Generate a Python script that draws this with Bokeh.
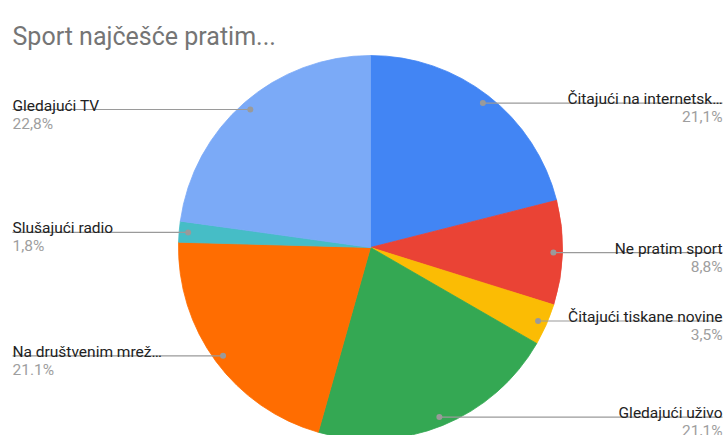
import math
from bokeh.plotting import figure
from bokeh.models import Range1d, ColumnDataSource
from bokeh.core.properties import value
from bokeh.embed import file_html
from bokeh.resources import INLINE

# ---- data ----
title_text = "Sport najčešće pratim..."
categories = ["Čitajući na internetsk…", "Ne pratim sport", "Čitajući tiskane novine",
              "Gledajući uživo", "Na društvenim mrež…", "Slušajući radio", "Gledajući TV"]
counts = [12, 5, 2, 12, 12, 1, 13]
pct_labels = ["21,1%", "8,8%", "3,5%", "21,1%", "21.1%", "1,8%", "22,8%"]
colors = ["#4285F4", "#EA4335", "#FBBC04", "#34A853", "#FF6D01", "#46BDC6", "#7BAAF7"]

# ---- layout (page pixel coordinates) ----
W, H = 728, 435
CX, CY, R = 370, 247, 192
RDOT = 0.953 * R
LEFT_X, RIGHT_X = 12, 722
FONT = value("Roboto")

p = figure(width=W, height=H, x_range=Range1d(0, W), y_range=Range1d(-H, 0),
           output_backend="svg", toolbar_location=None, min_border=0,
           x_axis_location=None, y_axis_location=None)
p.grid.visible = False
p.outline_line_color = None

total = float(sum(counts))
starts, ends, mids = [], [], []
c = 0.0
for v in counts:
    f0 = c / total
    c += v
    f1 = c / total
    starts.append(math.pi / 2 - 2 * math.pi * f0)
    ends.append(math.pi / 2 - 2 * math.pi * f1)
    mids.append(2 * math.pi * (f0 + f1) / 2)

src = ColumnDataSource(dict(x=[CX] * len(counts), y=[-CY] * len(counts),
                            start=starts, end=ends, color=colors))
p.wedge(x="x", y="y", radius=R, start_angle="start", end_angle="end",
        direction="clock", fill_color="color", line_color="color", line_width=0.8, source=src)

# label geometry
dot_x, dot_y, x0, x1, lx, ly, py, align, names, pcts = [], [], [], [], [], [], [], [], [], []
for name, pct, m in zip(categories, pct_labels, mids):
    dx = CX + RDOT * math.sin(m)
    dy = CY - RDOT * math.cos(m)
    dot_x.append(dx)
    dot_y.append(-dy)
    left = math.sin(m) < 0
    ex = LEFT_X if left else RIGHT_X
    x0.append(dx)
    x1.append(ex)
    lx.append(ex)
    ly.append(-(dy - 4))
    py.append(-(dy + 14))
    align.append("left" if left else "right")
    names.append(name)
    pcts.append(pct)

lsrc = ColumnDataSource(dict(x0=x0, x1=x1, y=dot_y, dx=dot_x, lx=lx, ly=ly, py=py,
                             align=align, name=names, pct=pcts))
p.segment(x0="x0", y0="y", x1="x1", y1="y", line_color="#9a9a9a", line_width=1.2, source=lsrc)
p.scatter(x="dx", y="y", size=6, fill_color="#9a9a9a", line_color=None, source=lsrc)
p.text(x="lx", y="ly", text="name", text_align="align", text_baseline="alphabetic",
       text_font=FONT, text_font_size="15.5px", text_color="#222222", source=lsrc)
p.text(x="lx", y="py", text="pct", text_align="align", text_baseline="alphabetic",
       text_font=FONT, text_font_size="15.5px", text_color="#9e9e9e", source=lsrc)

p.text(x=[12], y=[-36], text=[title_text], text_align="left", text_baseline="alphabetic",
       text_font=FONT, text_font_size="25px", text_color="#757575")

open("out.html", "w").write(file_html(p, INLINE))
